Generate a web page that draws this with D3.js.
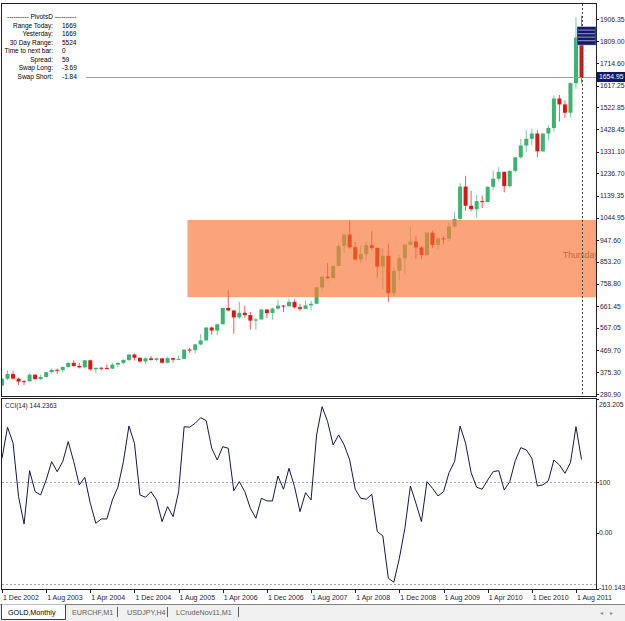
<!DOCTYPE html>
<html>
<head>
<meta charset="utf-8">
<script src="https://cdnjs.cloudflare.com/ajax/libs/d3/7.8.5/d3.min.js"></script>
<style>
body { margin: 0; background: #fff; }
svg { display: block; font-family: "Liberation Sans", Arial, sans-serif; }
</style>
</head>
<body>
<svg></svg>
<script>
var width = 625;
var height = 621;

// monthly bars, Dec 2002 .. Sep 2011
var firstMonth = new Date(2002, 11, 1);
var months = d3.timeMonth.range(firstMonth, new Date(2011, 9, 1));

var opens = [317.5, 347.2, 367.5, 347.5, 336.5, 335.8, 364.5, 346, 354.7, 375.5,
  385.6, 384.3, 398, 416, 402.5, 396.5, 427, 388, 394.5, 394,
  391, 408, 415.5, 428.5, 452, 438, 422, 435.5, 428.8, 435.5,
  416.3, 436.5, 429.5, 433.3, 473.3, 470.8, 495.7, 513, 569, 556,
  583, 654, 643, 613, 633, 623, 599, 604, 647, 632,
  651, 664, 661, 680, 657, 650, 665, 672, 743, 789,
  783, 836, 923, 972, 917, 864, 887, 926, 914, 833,
  880, 718, 815, 869, 928, 942, 916, 883, 980, 927,
  955.5, 954.5, 1007, 1040, 1180, 1097, 1082, 1117, 1113, 1179,
  1214, 1244, 1182, 1248, 1307, 1358, 1387, 1410, 1333, 1410,
  1434, 1562, 1536, 1500, 1628, 1826];
var highs = [349.9, 383.4, 382, 352, 341, 371.3, 368, 365, 376, 391,
  392, 400, 417, 427, 416, 428, 430, 396, 398, 409,
  416, 418, 432, 455, 456, 439, 440, 446, 439, 437,
  443, 438, 448, 474, 480, 498, 541, 570, 574, 587,
  654, 730, 644, 680, 663, 636, 611, 650, 648, 656,
  690, 666, 694, 691, 672, 685, 685, 744, 795, 848,
  839, 935, 975, 1033, 939, 926, 940, 988, 917, 913,
  934, 830, 883, 931, 1005, 965, 922, 981, 989, 960,
  964, 1024, 1070, 1195, 1227, 1162, 1143, 1142, 1182, 1249,
  1265, 1245, 1250, 1307, 1387, 1424, 1431, 1424, 1413, 1447,
  1575, 1577, 1553, 1632, 1913, 1921];
var lows = [316, 342, 345, 319.6, 319, 335, 340, 341, 351, 370,
  367, 374, 397, 399, 392, 391, 381, 372, 383, 387,
  389, 397, 409, 423, 426, 416, 411, 425, 423, 414,
  414, 418, 428, 432, 459, 457, 491, 513, 538, 536,
  583, 640, 542, 606, 612, 560, 560, 604, 610, 603,
  645, 636, 660, 651, 640, 649, 642, 671, 726, 781,
  781, 836, 893, 911, 863, 850, 860, 904, 786, 735,
  681, 706, 776, 801, 924, 865, 866, 880, 913, 907,
  930, 943, 1002, 1031, 1075, 1073, 1045, 1087, 1112, 1165,
  1203, 1155, 1177, 1242, 1300, 1330, 1360, 1308, 1330, 1381,
  1418, 1462, 1478, 1480, 1603, 1627];
var closes = [347.2, 367.5, 347.5, 334.8, 335.8, 364.5, 346, 354.7, 375.5, 385.6,
  384.3, 398, 416, 402.5, 396.5, 427, 388, 394, 394, 391,
  408, 415.5, 428.5, 452, 438, 422, 435.5, 428.8, 435.5, 416.3,
  436.5, 429.5, 433.3, 473.3, 470.8, 495.7, 513, 569, 556, 583,
  654, 643, 613, 633, 623, 599, 604, 647, 632, 651,
  664, 661, 680, 657, 650, 665, 672, 743, 789, 783,
  836, 923, 972, 917, 864, 887, 926, 914, 833, 880,
  718, 815, 869, 928, 942, 916, 883, 980, 927, 955,
  954.5, 1007, 1040, 1180, 1097, 1082, 1117, 1113, 1179, 1214,
  1244, 1182, 1248, 1307, 1358, 1387, 1410, 1333, 1410, 1434,
  1562, 1536, 1500, 1628, 1826, 1654.95];

var cciValues = [146.8, 207.7, 176.8, 71.3, 17.7, 122.4, 81.1, 74.7, 104.1, 140.1,
  120.4, 140.1, 179.4, 140.1, 94.3, 109.4, 58.3, 19.1, 27.5, 27.5,
  64.8, 89.8, 140.1, 210.2, 176.2, 74.7, 70.1, 81.1, 64.8, 22.2,
  51.7, 32.0, 81.1, 208.8, 207.7, 215.5, 226.5, 220.6, 166.4, 143.4,
  169.5, 166.4, 83.1, 100.8, 81.1, 48.5, 28.9, 68.2, 62.9, 62.9,
  112.0, 85.9, 127.1, 91.0, 41.8, 79.2, 64.8, 192.5, 248.1, 218.7,
  172.9, 192.5, 172.9, 143.4, 85.9, 68.2, 66.2, 76.0, 2.6, -5.9,
  -89.0, -96.9, -49.7, 9.2, 92.3, 58.3, 22.2, 100.8, 87.8, 72.7,
  81.1, 118.5, 140.1, 210.2, 176.2, 118.5, 89.8, 85.9, 104.1, 120.4,
  122.4, 84.5, 100.8, 142.0, 167.6, 163.1, 146.8, 92.3, 94.3, 102.8,
  143.4, 133.6, 117.3, 138.1, 208.8, 144.2363];

var priceTicks = [1906.35, 1809.00, 1714.60, 1617.25, 1522.85, 1428.45, 1331.10, 1236.70,
  1139.35, 1044.95, 947.60, 853.20, 758.80, 661.45, 567.05, 469.70, 375.30, 280.90];
var cciTicks = [263.205, 100, 0, -110.143];
var cciTickLabels = ['263.205', '100', '0.00', '-110.143'];
var cciLevels = [100, -100];
var dateTicks = ['1 Dec 2002', '1 Aug 2003', '1 Apr 2004', '1 Dec 2004', '1 Aug 2005', '1 Apr 2006',
  '1 Dec 2006', '1 Aug 2007', '1 Apr 2008', '1 Dec 2008', '1 Aug 2009', '1 Apr 2010',
  '1 Dec 2010', '1 Aug 2011'];

var infoLabels = ['Range Today:', 'Yesterday:', '30 Day Range:', 'Time to next bar:', 'Spread:', 'Swap  Long:', 'Swap  Short:'];
var infoValues = ['1669', '1669', '5524', '0', '59', '-3.69', '-1.84'];

var bidPrice = 1654.95;
var zonePrices = [701, 1035];
var zoneStartBar = 33.6;
var zoneText = 'Thursday';
var zoneTextBar = 101.65;
var zoneTextPrice = 870;
// pivot levels whose labels pile up at the right edge
var pivotPrices = [1860, 1845, 1830, 1815];
var tabs = ['GOLD,Monthly', 'EURCHF,M1', 'USDJPY,H4', 'LCrudeNov11,M1'];

var upColor = '#3cb371', downColor = '#dd1515';
var upZone = '#c08f48', downZone = '#ee5022';
var axisColor = '#1c1c3c';

var svg = d3.select('svg')
    .attr('width', width)
    .attr('height', height);

var x = d3.scaleLinear().domain([0, 105]).range([2, 581.5]);
var y = d3.scaleLinear().domain([280.9, 1906.35]).range([394, 19]);
var yc = d3.scaleLinear().domain([-110.143, 263.205]).range([589, 399]);

var bars = months.map(function (m, i) {
    return { i: i, o: opens[i], h: highs[i], l: lows[i], c: closes[i] };
});

var defs = svg.append('defs');
defs.append('clipPath').attr('id', 'mainClip')
    .append('rect').attr('x', 2).attr('y', 4).attr('width', 594).attr('height', 392);
defs.append('clipPath').attr('id', 'zoneClip')
    .append('rect')
    .attr('x', x(zoneStartBar))
    .attr('y', y(zonePrices[1]))
    .attr('width', 596 - x(zoneStartBar))
    .attr('height', y(zonePrices[0]) - y(zonePrices[1]));
defs.append('clipPath').attr('id', 'cciClip')
    .append('rect').attr('x', 2).attr('y', 400).attr('width', 594).attr('height', 189);

// panes
svg.append('rect').attr('x', 1.5).attr('y', 3.5).attr('width', 595).attr('height', 393)
    .attr('fill', 'none').attr('stroke', '#222');
svg.append('rect').attr('x', 1.5).attr('y', 398.5).attr('width', 595).attr('height', 191)
    .attr('fill', 'none').attr('stroke', '#222');

var main = svg.append('g').attr('clip-path', 'url(#mainClip)');

function drawCandles(g, up, down) {
    var c = g.selectAll('g.bar').data(bars).enter().append('g').attr('class', 'bar');
    c.append('line')
        .attr('x1', function (d) { return x(d.i); })
        .attr('x2', function (d) { return x(d.i); })
        .attr('y1', function (d) { return y(d.h); })
        .attr('y2', function (d) { return y(d.l); })
        .attr('stroke', function (d) { return d.c >= d.o ? up : down; })
        .attr('stroke-opacity', 0.7);
    c.append('rect')
        .attr('x', function (d) { return x(d.i) - 2; })
        .attr('width', 4)
        .attr('y', function (d) { return y(Math.max(d.o, d.c)); })
        .attr('height', function (d) { return Math.max(1, Math.abs(y(d.o) - y(d.c))); })
        .attr('fill', function (d) { return d.c >= d.o ? up : down; });
}

drawCandles(main.append('g'), upColor, downColor);

// zone rectangle and the bars seen through it
main.append('rect')
    .attr('x', x(zoneStartBar))
    .attr('y', y(zonePrices[1]))
    .attr('width', 596 - x(zoneStartBar))
    .attr('height', y(zonePrices[0]) - y(zonePrices[1]))
    .attr('fill', '#fba47b');
drawCandles(main.append('g').attr('clip-path', 'url(#zoneClip)'), upZone, downZone);

main.append('text')
    .attr('x', x(zoneTextBar))
    .attr('y', y(zoneTextPrice))
    .attr('font-size', 8.5)
    .attr('fill', '#c4643e')
    .text(zoneText);

// bid line
main.append('line')
    .attr('x1', 2).attr('x2', 596)
    .attr('y1', Math.round(y(bidPrice)) + 0.5).attr('y2', Math.round(y(bidPrice)) + 0.5)
    .attr('stroke', '#9c9cb4');

// current bar separator
main.append('line')
    .attr('x1', Math.round(x(105)) + 0.5).attr('x2', Math.round(x(105)) + 0.5)
    .attr('y1', 4).attr('y2', 396)
    .attr('stroke', '#444').attr('stroke-dasharray', '2,2');

// pivot label pile at the right edge (drawn as dotted marks)
var pivotBox = main.append('g');
pivotBox.append('rect').attr('x', 577).attr('y', y(pivotPrices[0]) - 3).attr('width', 19)
    .attr('height', y(pivotPrices[pivotPrices.length - 1]) - y(pivotPrices[0]) + 8)
    .attr('fill', '#141a6a').attr('stroke', '#c8c8f0').attr('stroke-width', 0.5);
pivotPrices.forEach(function (p) {
    pivotBox.append('line')
        .attr('x1', 578.5).attr('x2', 595)
        .attr('y1', y(p) + 0.5).attr('y2', y(p) + 0.5)
        .attr('stroke', '#e8e8ff').attr('stroke-width', 1.2).attr('stroke-dasharray', '1,1');
});

// info block
var info = svg.append('g');
info.append('rect').attr('x', 2).attr('y', 5).attr('width', 84).attr('height', 76).attr('fill', '#fff');
info.append('text').attr('x', 7).attr('y', 19).attr('font-size', 6.5).attr('fill', '#000')
    .text('---------- PivotsD ----------');
infoLabels.forEach(function (t, k) {
    info.append('text').attr('x', 53).attr('y', 27.5 + k * 8.5).attr('font-size', 6.5)
        .attr('text-anchor', 'end').attr('fill', '#000').text(t);
    info.append('text').attr('x', 62).attr('y', 27.5 + k * 8.5).attr('font-size', 6.5)
        .attr('fill', '#000').text(infoValues[k]);
});

// price axis
var pAxis = svg.append('g');
pAxis.selectAll('line').data(priceTicks).enter().append('line')
    .attr('x1', 596).attr('x2', 599)
    .attr('y1', function (d) { return Math.round(y(d)) + 0.5; })
    .attr('y2', function (d) { return Math.round(y(d)) + 0.5; })
    .attr('stroke', axisColor);
pAxis.selectAll('text').data(priceTicks).enter().append('text')
    .attr('x', 600)
    .attr('y', function (d) { return y(d) + 2.5; })
    .attr('font-size', 6.8)
    .attr('fill', axisColor)
    .text(function (d) { return d.toFixed(2); });
pAxis.append('rect').attr('x', 597).attr('y', y(bidPrice) - 5).attr('width', 28).attr('height', 10)
    .attr('fill', '#101860');
pAxis.append('text').attr('x', 599).attr('y', y(bidPrice) + 2.5).attr('font-size', 6.8)
    .attr('fill', '#fff').text(bidPrice.toFixed(2));

// CCI pane
var cg = svg.append('g').attr('clip-path', 'url(#cciClip)');
cg.selectAll('line.level').data(cciLevels).enter().append('line')
    .attr('class', 'level')
    .attr('x1', 2).attr('x2', 596)
    .attr('y1', function (d) { return Math.round(yc(d)) + 0.5; })
    .attr('y2', function (d) { return Math.round(yc(d)) + 0.5; })
    .attr('stroke', '#a8a8a8').attr('stroke-dasharray', '2,2');
cg.append('path')
    .datum(cciValues)
    .attr('d', d3.line().x(function (d, i) { return x(i); }).y(function (d) { return yc(d); }))
    .attr('fill', 'none')
    .attr('stroke', '#16164a')
    .attr('stroke-width', 1);
svg.append('text').attr('x', 5).attr('y', 408).attr('font-size', 6.5).attr('fill', '#202050')
    .text('CCI(14) ' + cciValues[cciValues.length - 1].toFixed(4));

var cAxis = svg.append('g');
cAxis.selectAll('line').data(cciTicks).enter().append('line')
    .attr('x1', 596).attr('x2', 599)
    .attr('y1', function (d) { return Math.round(yc(d)) + 0.5; })
    .attr('y2', function (d) { return Math.round(yc(d)) + 0.5; })
    .attr('stroke', axisColor);
cAxis.selectAll('text').data(cciTicks).enter().append('text')
    .attr('x', 599)
    .attr('y', function (d) { return Math.min(590, Math.max(406.5, yc(d) + 2.5)); })
    .attr('font-size', 6.8)
    .attr('fill', axisColor)
    .text(function (d, i) { return cciTickLabels[i]; });

// date axis
var parseDate = d3.timeParse('%d %b %Y');
var dAxis = svg.append('g');
dateTicks.forEach(function (t) {
    var i = d3.timeMonth.count(firstMonth, parseDate(t));
    dAxis.append('line').attr('x1', Math.round(x(i)) + 0.5).attr('x2', Math.round(x(i)) + 0.5)
        .attr('y1', 590).attr('y2', 593).attr('stroke', axisColor);
    dAxis.append('text').attr('x', x(i) + 1).attr('y', 600).attr('font-size', 7)
        .attr('fill', axisColor).text(t);
});

// symbol tabs
var tabBar = svg.append('g');
tabBar.append('rect').attr('x', 0).attr('y', 604).attr('width', width).attr('height', 17).attr('fill', '#f0f0f0');
tabBar.append('line').attr('x1', 0).attr('x2', width).attr('y1', 604.5).attr('y2', 604.5).attr('stroke', '#808080');
tabBar.append('path').attr('d', 'M1.5,604.5V619.5H65.5V604.5').attr('fill', '#fff').attr('stroke', '#404040');
var tabX = [8, 72, 127, 176];
var sepX = [117, 167, 238];
tabs.forEach(function (t, k) {
    tabBar.append('text').attr('x', tabX[k]).attr('y', 615).attr('font-size', 7.2)
        .attr('fill', k === 0 ? '#000' : '#606060').text(t);
});
sepX.forEach(function (s) {
    tabBar.append('line').attr('x1', s + 0.5).attr('x2', s + 0.5).attr('y1', 607).attr('y2', 617).attr('stroke', '#606060');
});
tabBar.append('text').attr('x', 600).attr('y', 615).attr('font-size', 6).attr('fill', '#888').text('\u25C2');
tabBar.append('text').attr('x', 610).attr('y', 615).attr('font-size', 6).attr('fill', '#888').text('\u25B8');
</script>
</body>
</html>
